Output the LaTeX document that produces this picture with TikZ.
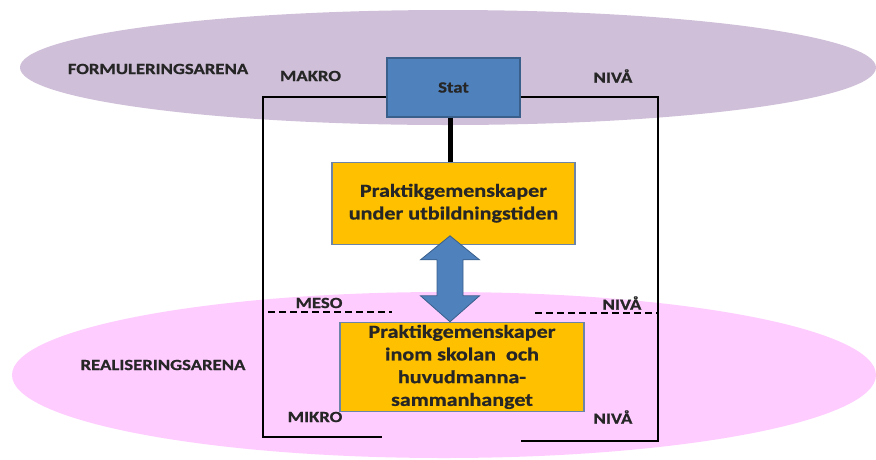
\documentclass[tikz,border=0pt]{standalone}
\usepackage{fontspec}
\setmainfont{Carlito}[FakeStretch=1.2, BoldFeatures={FakeBold=0.8}]
\usetikzlibrary{positioning,shapes.geometric,calc}
\definecolor{arenalila}{HTML}{CFBFD8}
\definecolor{arenarosa}{HTML}{FFCCFF}
\definecolor{statblue}{HTML}{4F81BD}
\definecolor{statedge}{HTML}{3A5F8B}
\definecolor{gemorange}{HTML}{FFC000}
\definecolor{gemedge}{HTML}{6C84A8}

\begin{document}
\begin{tikzpicture}[x=1pt, y=-1pt,
  lbl/.style={font=\bfseries\fontsize{15.6}{18}\selectfont, text=black!85, inner sep=0pt},
  arena/.style={ellipse, inner sep=0pt},
  gem/.style={draw=gemedge, line width=1.2pt, fill=gemorange, align=center, inner sep=0pt, text=black!85, font=\bfseries\fontsize{18.4}{22.7}\selectfont},
  frame/.style={line width=1.7pt},
  lvlcut/.style={line width=1.8pt, dash pattern=on 7pt off 4pt},
]
\useasboundingbox (0,0) rectangle (876,459);

% arenas
\node[arena, fill=arenalila, minimum width=856pt, minimum height=115pt] (formarena) at (448,67.5) {};
\node[arena, fill=arenarosa, minimum width=864pt, minimum height=166pt] (realarena) at (444,375) {};

% boxes
\node[lbl, draw=statedge, line width=1.2pt, fill=statblue, minimum width=133pt, minimum height=59pt] (stat) at (453.5,87.5) {Stat};
\node[gem, minimum width=243pt, minimum height=82pt, below=44pt of stat] (ugem) {Praktikgemenskaper\\under utbildningstiden};
\node[gem, minimum width=244pt, minimum height=89pt, below=77pt of ugem, xshift=8.5pt] (sgem) {Praktikgemenskaper\\inom skolan\ \ och\\huvudmanna-\\sammanhanget};

% arena and level labels
\node[lbl] (formlbl) at (158,69) {FORMULERINGSARENA};
\node[lbl] (makro) at (310.5,76) {MAKRO};
\node[lbl] (nivamakro) at (613,76) {NIVÅ};
\node[lbl] (meso) at (319,303) {MESO};
\node[lbl] (nivameso) at (622,303) {NIVÅ};
\node[lbl] (reallbl) at (163,365) {REALISERINGSARENA};
\node[lbl] (mikro) at (315,417) {MIKRO};
\node[lbl] (nivamikro) at (613,417) {NIVÅ};

% frame round the levels
\coordinate (ftl) at (263,97);
\coordinate (ftr) at (658,97);
\draw[frame] (stat.west |- ftl) -- (ftl) -- (263,437) -- (382,437);
\draw[frame] (stat.east |- ftr) -- (ftr) -- (658,441) -- (521,441);

% meso cut
\draw[lvlcut] (268,312) -- (392,312);
\draw[lvlcut] (535,313) -- (658,313);

% stat to utbildning
\draw[line width=5pt] ([xshift=-3.5pt]stat.south) -- ([xshift=-3.5pt]ugem.north);

% two-way block arrow
\coordinate (atop) at ([xshift=-3.5pt, yshift=9pt]ugem.south);
\coordinate (abot) at ([xshift=-12pt]sgem.north);
\filldraw[fill=statblue, draw=statedge, line width=0.8pt] (atop) -- ++(29.5,24) -- ++(-16.5,0) -- ++(0,36) -- ++(16.5,0) -- (abot)
  -- ++(-29.5,-26) -- ++(16.5,0) -- ++(0,-36) -- ++(-16.5,0) -- cycle;
\end{tikzpicture}
\end{document}
